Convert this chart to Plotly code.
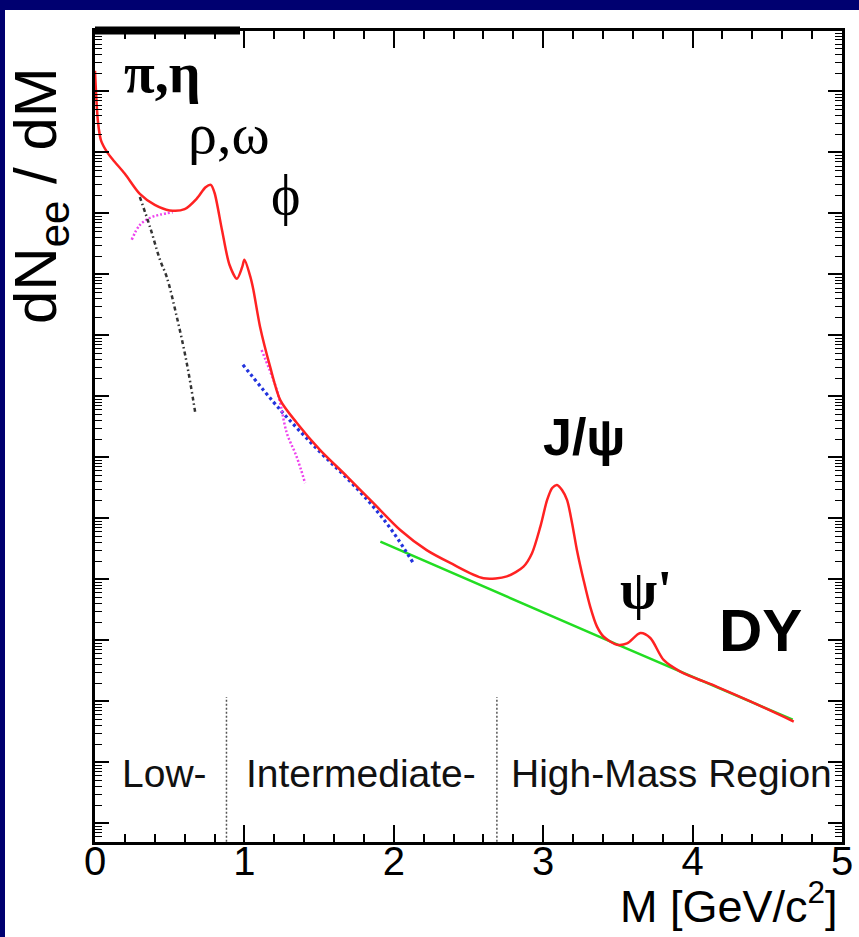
import plotly.graph_objects as go

# ---- dielectron invariant-mass spectrum (arbitrary normalisation) ----
# total cocktail
mass_total = [0.00, 0.02, 0.04, 0.08, 0.12, 0.20, 0.30, 0.40, 0.50, 0.60, 0.68, 0.74,
              0.775, 0.80, 0.85, 0.90, 0.95, 0.985, 1.00, 1.04, 1.06, 1.105, 1.172, 1.24,
              1.35, 1.507, 1.686, 1.864, 2.043, 2.22, 2.378, 2.60, 2.757, 2.868, 2.925,
              2.981, 3.026, 3.060, 3.092, 3.126, 3.16, 3.193, 3.226, 3.27, 3.315, 3.36,
              3.405, 3.494, 3.561, 3.65, 3.717, 3.806, 3.918, 4.164, 4.387, 4.677]
yield_total = [2.188e-1, 3.162e-2, 1.585e-2, 1.023e-2, 7.586e-3, 4.467e-3, 2.089e-3,
               1.380e-3, 1.122e-3, 1.175e-3, 1.738e-3, 2.692e-3, 2.951e-3, 2.188e-3,
               5.370e-4, 1.445e-4, 8.511e-5, 1.318e-4, 1.738e-4, 9.120e-5, 5.623e-5,
               1.380e-5, 3.090e-6, 8.710e-7, 3.715e-7, 1.318e-7, 4.898e-8, 1.778e-8,
               6.457e-9, 3.020e-9, 1.862e-9, 1.047e-9, 1.122e-9, 1.622e-9, 2.692e-9,
               7.345e-9, 1.995e-8, 3.162e-8, 3.548e-8, 2.931e-8, 1.995e-8, 8.433e-9,
               3.020e-9, 9.817e-10, 3.548e-10, 1.683e-10, 1.148e-10, 8.511e-11,
               8.913e-11, 1.318e-10, 1.096e-10, 4.786e-11, 3.090e-11, 1.738e-11,
               1.000e-11, 4.677e-12]

# Drell-Yan continuum
mass_dy = [1.91, 3.49, 4.67]
yield_dy = [4.169e-9, 8.710e-11, 5.012e-12]

# open charm
mass_charm = [0.99, 1.24, 1.51, 1.69, 1.86, 2.00, 2.13]
yield_charm = [3.311e-6, 6.026e-7, 1.202e-7, 4.467e-8, 1.585e-8, 5.754e-9, 1.862e-9]

# rho contribution (two visible pieces)
mass_rho = [0.246, 0.30, 0.37, 0.435, 0.52, None, 1.115, 1.206, 1.24, 1.284, 1.35, 1.406]
yield_rho = [3.715e-4, 6.457e-4, 8.511e-4, 9.550e-4, 1.047e-3, None,
             5.754e-6, 1.549e-6, 7.762e-7, 2.512e-7, 1.023e-7, 3.802e-8]

# Dalitz decays
mass_dalitz = [0.30, 0.368, 0.435, 0.48, 0.547, 0.614, 0.670]
yield_dalitz = [1.862e-3, 6.026e-4, 1.738e-4, 9.120e-5, 2.042e-5, 3.548e-6, 5.623e-7]

# mass-region boundaries and labels
region_edges = [0.88, 2.69]
region_labels = ["Low-", "Intermediate-", "High-Mass Region"]
region_label_x = [0.165, 0.995, 2.77]

x_ticks = [0, 1, 2, 3, 4, 5]
# minor ticks of the logarithmic axis (2..9 within every decade)
y_minor_ticks = [m * 10.0 ** e for e in range(-14, 1) for m in range(2, 10)]

W, H = 859, 937
PX0, PX1 = 95, 842      # plot area, horizontal pixels
PY0, PY1 = 30.5, 841.7  # plot area, vertical pixels
Y_LOG_RANGE = [-13.30, 0.0]

def px(xp):
    return xp / W

def py(yp):
    return 1 - yp / H

fig = go.Figure()

fig.add_trace(go.Scatter(x=mass_dy, y=yield_dy, mode="lines",
                         line=dict(color="#22dd22", width=2.5)))
fig.add_trace(go.Scatter(x=mass_charm, y=yield_charm, mode="lines", line_shape="spline",
                         line=dict(color="#2233dd", width=3.2, dash="3px,3px")))
fig.add_trace(go.Scatter(x=mass_rho, y=yield_rho, mode="lines", line_shape="spline",
                         connectgaps=False,
                         line=dict(color="#ee44ee", width=2.5, dash="2px,2px")))
fig.add_trace(go.Scatter(x=mass_dalitz, y=yield_dalitz, mode="lines", line_shape="spline",
                         line=dict(color="#333333", width=2.5,
                                   dash="4px,3px,1.5px,3px")))
fig.add_trace(go.Scatter(x=mass_total, y=yield_total, mode="lines", line_shape="spline",
                         line=dict(color="#ff2222", width=2.5, smoothing=0.8)))

axis_common = dict(showgrid=False, zeroline=False, showline=True, linecolor="black",
                   linewidth=3, mirror="ticks", ticks="inside", tickcolor="black",
                   automargin=False)

fig.update_xaxes(**axis_common, range=[0, 5], tickvals=x_ticks, ticklen=17, tickwidth=2,
                 minor=dict(dtick=0.2, ticks="inside", ticklen=8, tickwidth=1.5,
                            tickcolor="black"),
                 tickfont=dict(family="Liberation Sans, Arial", size=40, color="black"),
                 ticklabelstandoff=-18,
                 domain=[px(PX0), px(PX1)], anchor="y")
fig.update_yaxes(**axis_common, type="log", range=Y_LOG_RANGE, dtick=1, ticklen=14,
                 tickwidth=2, showticklabels=False,
                 minor=dict(tickmode="array", tickvals=y_minor_ticks, ticks="inside",
                            ticklen=7, tickwidth=1, tickcolor="black"),
                 domain=[py(PY1), py(PY0)], anchor="x")

shapes = [
    # slide frame
    dict(type="rect", xref="paper", yref="paper", x0=0, x1=px(5), y0=0, y1=1,
         fillcolor="#000070", line_width=0, layer="above"),
    dict(type="rect", xref="paper", yref="paper", x0=0, x1=1, y0=py(10), y1=1,
         fillcolor="#000070", line_width=0, layer="above"),
    # heavier top frame segment
    dict(type="line", xref="paper", yref="paper", x0=px(PX0), x1=px(240),
         y0=py(PY0), y1=py(PY0), line=dict(color="black", width=8), layer="above"),
]
for edge in region_edges:
    shapes.append(dict(type="line", xref="x", yref="paper", x0=edge, x1=edge,
                       y0=py(PY1), y1=py(697),
                       line=dict(color="#555555", width=1.5, dash="2px,2px")))
fig.update_layout(shapes=shapes)

annotations = []
for text, xl in zip(region_labels, region_label_x):
    annotations.append(dict(text=text, x=xl, xref="x", xanchor="left",
                            y=py(773), yref="paper", yanchor="middle", showarrow=False,
                            font=dict(family="Liberation Sans, Arial", size=39,
                                      color="#111111")))

serif = "Liberation Serif, Times New Roman"
sans = "Liberation Sans, Arial"
peak_labels = [
    ("<b>π,η</b>", 162, 73, serif, 56),
    ("ρ,ω", 229, 134, serif, 58),
    ("ϕ", 285, 195, serif, 56),
    ("<b>J/ψ</b>", 584, 437, sans, 52),
    ("<b>ψ'</b>", 646, 590, serif, 54),
    ("<b>DY</b>", 760, 630, sans, 60),
]
for text, xp, yp, fam, size in peak_labels:
    annotations.append(dict(text=text, x=px(xp), y=py(yp), xref="paper", yref="paper",
                            xanchor="center", yanchor="middle", showarrow=False,
                            font=dict(family=fam, size=size, color="black")))

# axis titles
annotations.append(dict(text="M [GeV/c<sup>2</sup>]", x=px(840), y=py(903),
                        xref="paper", yref="paper", xanchor="right", yanchor="middle",
                        showarrow=False, font=dict(family=sans, size=45, color="black")))
annotations.append(dict(text="dN<sub>ee</sub> / dM", x=px(40), y=py(196),
                        xref="paper", yref="paper", xanchor="center", yanchor="middle",
                        textangle=-90, showarrow=False,
                        font=dict(family=sans, size=60, color="black")))
fig.update_layout(annotations=annotations)

fig.update_layout(width=W, height=H, margin=dict(l=0, r=0, t=0, b=0, autoexpand=False),
                  paper_bgcolor="white", plot_bgcolor="white", showlegend=False)

fig.write_html("out.html",
               post_script="document.body.style.margin='0';"
                           "document.body.style.overflow='hidden';")
